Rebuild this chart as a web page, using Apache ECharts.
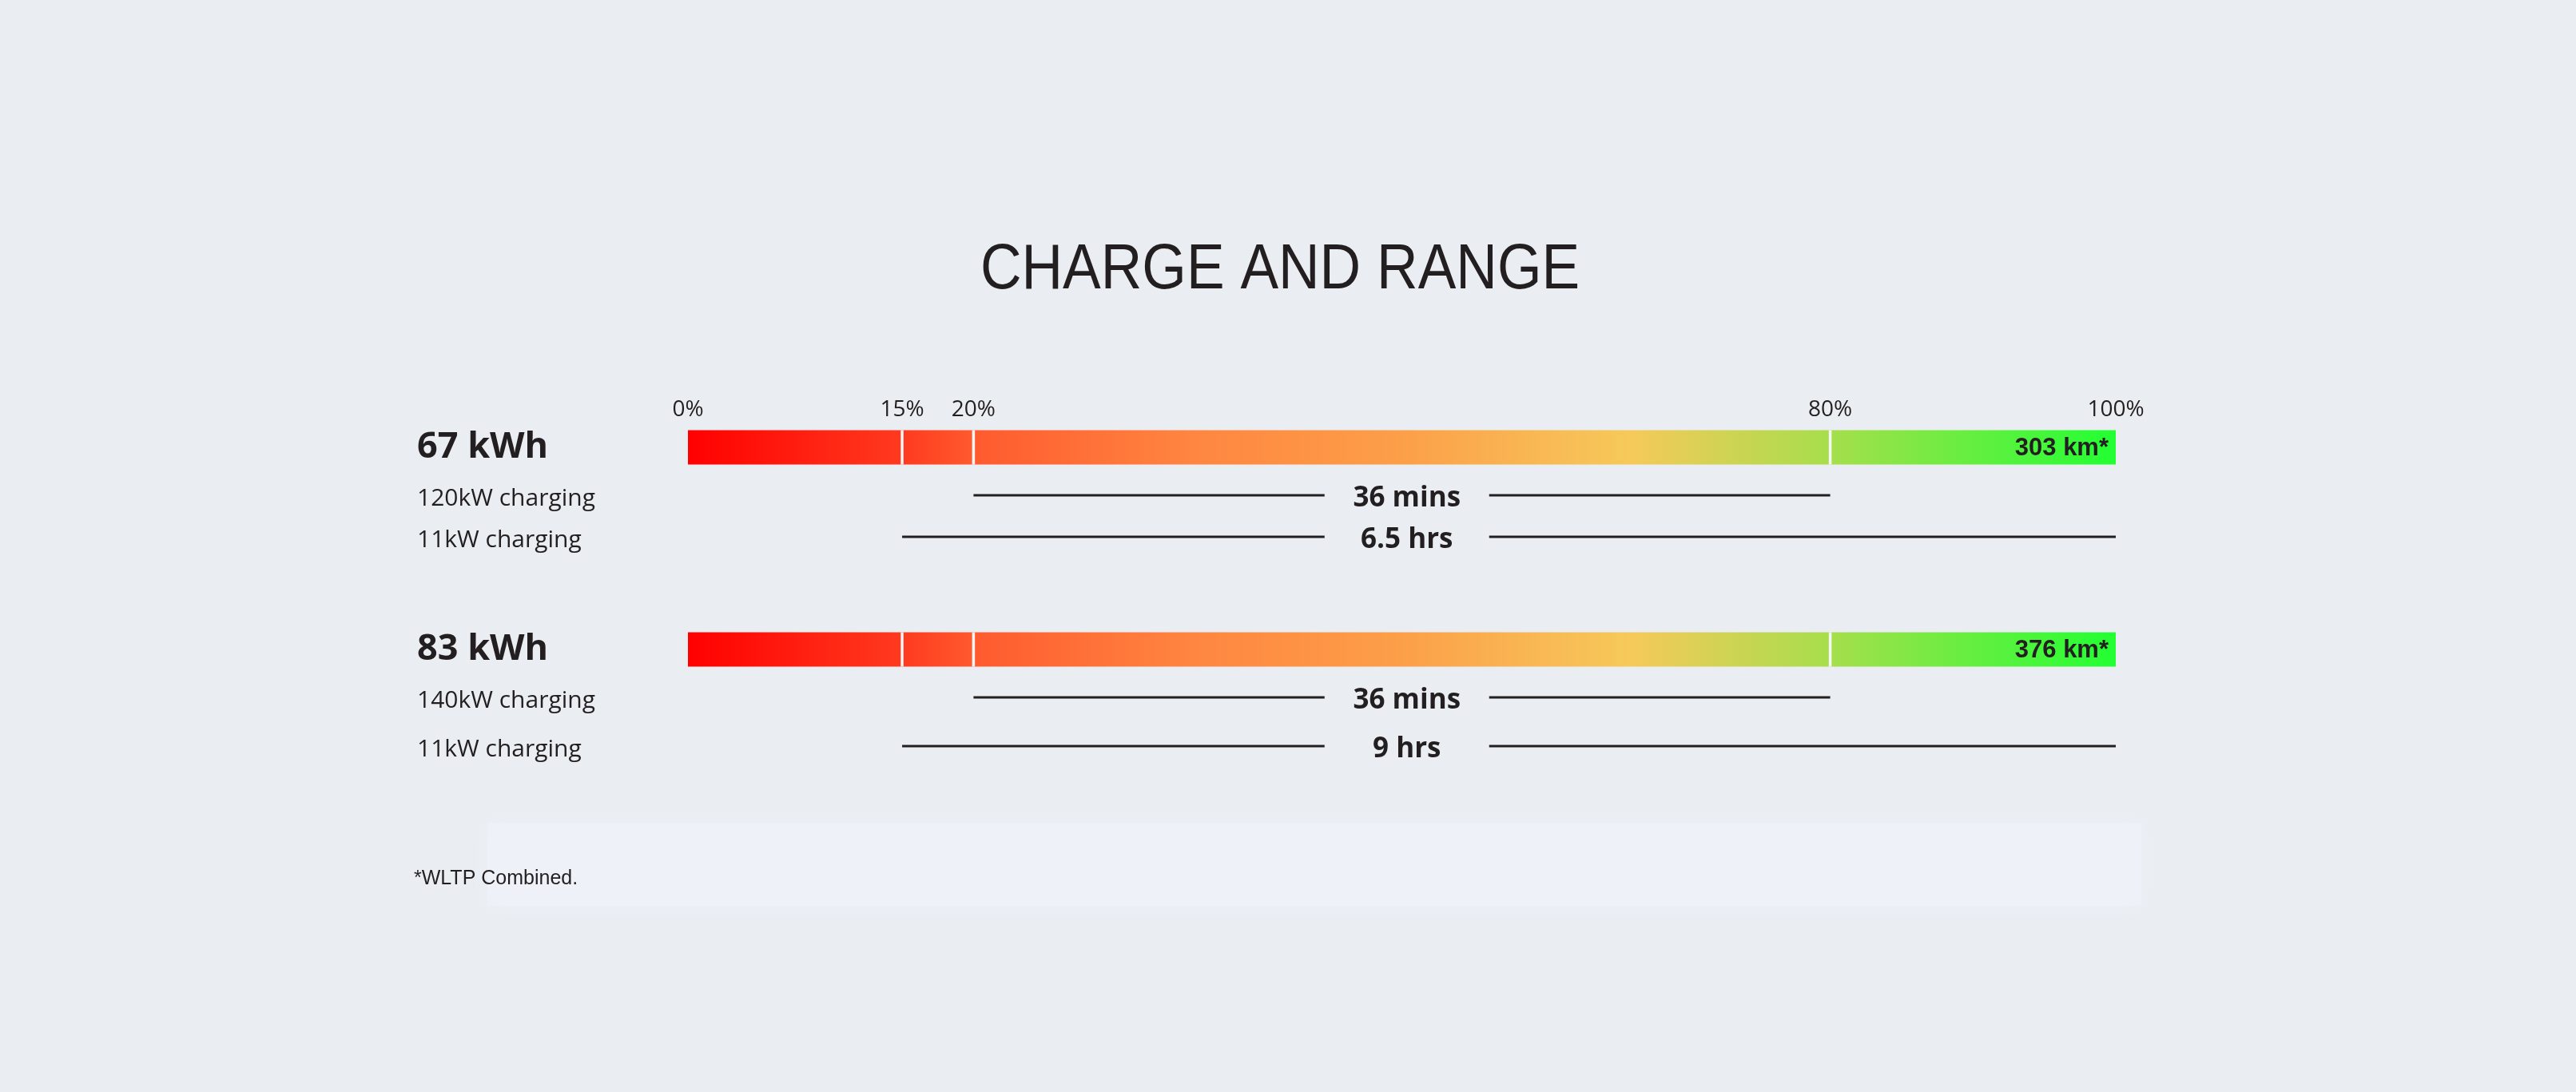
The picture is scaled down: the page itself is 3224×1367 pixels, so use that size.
<!DOCTYPE html>
<html>
<head>
    <meta charset="UTF-8">
    <title>Charge and range</title>
    <script src="https://cdn.jsdelivr.net/npm/echarts@6/dist/echarts.min.js"></script>
    <style type="text/css">
        html, body, #main {
            height: 100%;
            width: 100%;
            margin: 0;
            padding: 0;
            background: #eaeef3;
        }
    </style>
</head>
<body>
<div id="main"></div>
<script type="text/javascript">
    // state of charge ticks (%)
    var ticks = [0, 15, 20, 80, 100];
    var dividers = [15, 20, 80];
    // batteries + range at 100%
    var batteries = ['67 kWh', '83 kWh'];
    var ranges = ['303 km*', '376 km*'];
    // charging rows
    var chargeLabels = ['120kW charging', '11kW charging', '140kW charging', '11kW charging'];
    var chargeBattery = [0, 0, 1, 1];
    var chargeFrom = [20, 15, 20, 15];
    var chargeTo = [80, 100, 80, 100];
    var chargeTimes = ['36 mins', '6.5 hrs', '36 mins', '9 hrs'];

    var INK = '#231f20';
    var BAR_H = 43;
    var SUB_ROW_DY = [[60, 112], [60, 121]]; // px below the bar centre
    var LABEL_AT = 50.35; // duration text position (%)
    var GAP = 103;        // half width of the gap in the line
    var LEFT_INDENT = 339;
    var STOPS = [
        {offset: 0, color: '#ff0000'},
        {offset: 0.15, color: '#ff3a1f'},
        {offset: 0.2, color: '#ff5a2e'},
        {offset: 0.35, color: '#ff8540'},
        {offset: 0.5, color: '#fc9f49'},
        {offset: 0.58, color: '#f9b452'},
        {offset: 0.66, color: '#f6c95a'},
        {offset: 0.8, color: '#a6de4c'},
        {offset: 1, color: '#22ff33'}
    ];

    var mycharts = echarts.init(document.getElementById('main'));

    function renderBar(params, api) {
        var i = params.dataIndex;
        var cat = api.value(2);
        var p0 = api.coord([api.value(0), cat]);
        var p1 = api.coord([api.value(1), cat]);
        var top = p0[1] - BAR_H / 2;
        var children = [{
            type: 'rect',
            shape: {x: p0[0], y: top, width: p1[0] - p0[0], height: BAR_H},
            style: {fill: new echarts.graphic.LinearGradient(0, 0, 1, 0, STOPS)}
        }];
        dividers.forEach(function (d) {
            var x = api.coord([d, cat])[0];
            children.push({
                type: 'rect',
                shape: {x: x - 1.75, y: top, width: 3.5, height: BAR_H},
                style: {fill: '#f3f5f7'}
            });
        });
        children.push({
            type: 'text',
            x: p1[0] - 9,
            y: p0[1] + 1,
            style: {
                text: ranges[i], align: 'right', verticalAlign: 'middle',
                fontFamily: '"Liberation Sans", Arial, sans-serif', fontWeight: 'bold', fontSize: 31, fill: INK
            }
        });
        return {type: 'group', children: children};
    }

    function renderCharge(params, api) {
        var k = params.dataIndex;
        var cat = api.value(2);
        var slot = chargeBattery.slice(0, k).filter(function (b) { return b === cat; }).length;
        var p0 = api.coord([api.value(0), cat]);
        var y = p0[1] + SUB_ROW_DY[cat][slot];
        var x2 = api.coord([api.value(1), cat])[0];
        var xm = api.coord([LABEL_AT, cat])[0];
        var xl = api.coord([ticks[0], cat])[0] - LEFT_INDENT;
        var lineStyle = {stroke: INK, lineWidth: 3};
        return {
            type: 'group',
            children: [
                {type: 'line', shape: {x1: p0[0], y1: y, x2: xm - GAP, y2: y}, style: lineStyle},
                {type: 'line', shape: {x1: xm + GAP, y1: y, x2: x2, y2: y}, style: lineStyle},
                {
                    type: 'text', x: xm, y: y + 4,
                    style: {
                        text: chargeTimes[k], align: 'center', verticalAlign: 'middle',
                        fontFamily: '"Open Sans", sans-serif', fontWeight: 'bold', fontSize: 35, fill: INK
                    }
                },
                {
                    type: 'text', x: xl, y: y + 4,
                    style: {
                        text: chargeLabels[k], align: 'left', verticalAlign: 'middle',
                        fontFamily: '"Open Sans", sans-serif', fontSize: 30, fill: INK
                    }
                }
            ]
        };
    }

    var option = {
        backgroundColor: '#eaeef3',
        animation: false,
        graphic: [
            {
                type: 'rect', z: -1,
                shape: {x: 610, y: 1030, width: 2070, height: 104},
                style: {
                    fill: 'rgba(240,243,250,0.55)',
                    shadowBlur: 24,
                    shadowColor: 'rgba(240,243,250,0.8)'
                }
            },
            {
                type: 'text', x: 1602, y: 339, scaleX: 0.893,
                style: {
                    text: 'CHARGE AND RANGE', align: 'center', verticalAlign: 'middle',
                    fontFamily: '"Liberation Sans", Arial, sans-serif', fontSize: 80, fill: INK
                }
            },
            {
                type: 'text', x: 518, y: 1100,
                style: {
                    text: '*WLTP Combined.', align: 'left', verticalAlign: 'middle',
                    fontFamily: '"Liberation Sans", Arial, sans-serif', fontSize: 25, fill: INK
                }
            }
        ],
        grid: {left: 861, right: 576, top: 433.5, height: 506},
        xAxis: {
            type: 'value',
            min: ticks[0],
            max: ticks[ticks.length - 1],
            position: 'top',
            offset: -94,
            axisLine: {show: false},
            axisTick: {show: false},
            splitLine: {show: false},
            axisLabel: {
                customValues: ticks,
                formatter: '{value}%',
                margin: 0,
                fontFamily: '"Open Sans", sans-serif',
                fontSize: 28,
                color: INK
            }
        },
        yAxis: {
            type: 'category',
            inverse: true,
            data: batteries,
            axisLine: {show: false},
            axisTick: {show: false},
            axisLabel: {
                align: 'left',
                margin: LEFT_INDENT,
                padding: [10, 0, 0, 0],
                fontFamily: '"Open Sans", sans-serif',
                fontWeight: 'bold',
                fontSize: 45,
                color: INK
            }
        },
        series: [
            {
                type: 'custom',
                name: 'charge',
                renderItem: renderBar,
                encode: {x: [0, 1], y: 2},
                data: batteries.map(function (b, i) {
                    return [ticks[0], ticks[ticks.length - 1], i];
                })
            },
            {
                type: 'custom',
                name: 'charging',
                renderItem: renderCharge,
                encode: {x: [0, 1], y: 2},
                data: chargeFrom.map(function (f, k) {
                    return [f, chargeTo[k], chargeBattery[k]];
                })
            }
        ]
    };
    mycharts.setOption(option);
</script>
</body>
</html>
